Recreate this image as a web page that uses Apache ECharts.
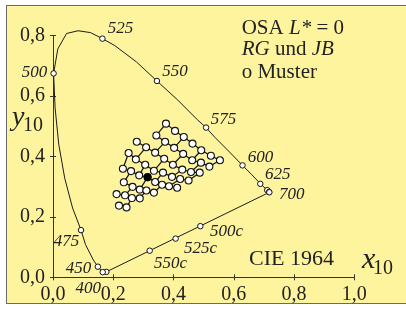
<!DOCTYPE html>
<html>
<head>
<meta charset="utf-8">
<script src="https://cdn.jsdelivr.net/npm/echarts@6.0.0/dist/echarts.min.js"></script>
<style>
html, body { margin: 0; padding: 0; background: #fff; }
#frame { position: absolute; left: 6px; top: 5px; width: 420px; height: 297px; background: #fff49e; border: 1.5px solid #6a6a6a; }
#chart { position: absolute; left: 0; top: 0; width: 406px; height: 309px; }
</style>
</head>
<body>
<div id="frame"></div>
<div id="chart"></div>
<script>
// spectral locus, CIE 1964 (x10, y10)
const locusNm = [400, 410, 420, 425, 430, 440, 450, 460, 470, 475, 480, 485, 490, 495, 500, 505, 510, 515, 520, 525, 530, 540, 550, 560, 570, 575, 580, 590, 600, 610, 620, 625, 630, 640, 650, 675, 700]
const locusX = [0.177, 0.174, 0.170, 0.165, 0.163, 0.157, 0.149, 0.134, 0.108, 0.093, 0.065, 0.039, 0.019, 0.007, 0.002, 0.016, 0.045, 0.083, 0.124, 0.164, 0.205, 0.277, 0.345, 0.414, 0.479, 0.508, 0.537, 0.589, 0.629, 0.660, 0.682, 0.688, 0.695, 0.705, 0.711, 0.717, 0.718]
const locusY = [0.018, 0.018, 0.017, 0.017, 0.019, 0.025, 0.035, 0.057, 0.108, 0.156, 0.229, 0.327, 0.440, 0.560, 0.674, 0.755, 0.806, 0.815, 0.809, 0.789, 0.766, 0.712, 0.649, 0.586, 0.521, 0.495, 0.463, 0.411, 0.370, 0.339, 0.316, 0.309, 0.303, 0.294, 0.288, 0.282, 0.281]

// marked and labelled wavelengths
const markNm = [400, 425, 450, 475, 500, 525, 550, 575, 600, 625, 650, 675, 700]
const labelNm = [400, 450, 475, 500, 525, 550, 575, 600, 625, 700]

// points on the purple line
const purpleNames = ['550c', '525c', '500c']
const purpleX = [0.321, 0.407, 0.489]
const purpleY = [0.088, 0.128, 0.169]

// OSA samples L* = 0, one row per RG line
const osaRow0 = [[0.375, 0.508], [0.405, 0.484], [0.434, 0.464], [0.463, 0.442], [0.492, 0.420], [0.524, 0.402], [0.554, 0.387]]
const osaRow1 = [[0.343, 0.469], [0.372, 0.448], [0.402, 0.428], [0.432, 0.408], [0.462, 0.387], [0.491, 0.379], [0.519, 0.366]]
const osaRow2 = [[0.278, 0.448], [0.309, 0.430], [0.339, 0.412], [0.369, 0.392], [0.398, 0.372], [0.429, 0.356], [0.458, 0.348], [0.487, 0.346]]
const osaRow3 = [[0.251, 0.411], [0.275, 0.390], [0.306, 0.372], [0.335, 0.352], [0.365, 0.346], [0.395, 0.332], [0.422, 0.325], [0.450, 0.320]]
const osaRow4 = [[0.232, 0.359], [0.259, 0.351], [0.286, 0.337], [0.314, 0.331], [0.339, 0.315], [0.362, 0.306], [0.385, 0.301], [0.412, 0.296]]
const osaRow5 = [[0.235, 0.314], [0.264, 0.299], [0.288, 0.290], [0.310, 0.287], [0.335, 0.280]]
const osaRow6 = [[0.211, 0.275], [0.239, 0.271], [0.262, 0.262], [0.288, 0.261]]
const osaRow7 = [[0.219, 0.237], [0.244, 0.231]]
const osaFirst = [0, 0, -1, -1, -1, 0, 0, 1]
const whitePoint = [0.314, 0.331]

const serif = 'Liberation Serif'
const ink = '#222'

// label side, distance, dx, dy
const labelPlace = {
  '400': ['left', 2, 0, 17],
  '450': ['left', 3.5, 0, 1.5],
  '475': ['left', 0, 1.5, 11.5],
  '500': ['left', 3, 0, -1],
  '525': ['right', 2, 0, -10],
  '550': ['right', 2, 0, -9.5],
  '575': ['right', 1.5, 0, -8],
  '600': ['right', 2, 0, -8],
  '625': ['right', 1.5, 0, -9],
  '700': ['right', 6.5, 0, 2],
  '500c': ['right', 6.5, 0, 5],
  '525c': ['right', 5, 0, 9.5],
  '550c': ['right', 1, 0, 13]
}

function labelFor(name) {
  const p = labelPlace[name]
  if (!p) return { show: false }
  return {
    show: true,
    formatter: name,
    position: p[0],
    distance: p[1],
    offset: [p[2], p[3]],
    fontFamily: serif,
    fontStyle: 'italic',
    fontSize: 17,
    color: ink
  }
}

const locusData = locusX.map((x, i) => [x, locusY[i]])
const markData = markNm.map(nm => {
  const i = locusNm.indexOf(nm)
  const name = labelNm.includes(nm) ? String(nm) : ''
  return { name: name, value: [locusX[i], locusY[i]], label: labelFor(name) }
})
const first = locusData[0]
const last = locusData[locusData.length - 1]
const purpleData = purpleNames.map((n, i) => ({ name: n, value: [purpleX[i], purpleY[i]], label: labelFor(n) }))

// RG rows are joined point to point, JB links alternate between rows
const osaRows = [osaRow0, osaRow1, osaRow2, osaRow3, osaRow4, osaRow5, osaRow6, osaRow7]
const links = []
osaRows.forEach((row, r) => {
  row.forEach((p, k) => {
    const i = osaFirst[r] + k
    if (k > 0) links.push({ coords: [row[k - 1], p] })
    if ((r + i) % 2 === 0 && r + 1 < osaRows.length) {
      const next = osaRows[r + 1]
      const j = i - osaFirst[r + 1]
      if (j >= 0 && j < next.length) links.push({ coords: [p, next[j]] })
    }
  })
})
const osaPoints = [].concat(...osaRows)

const tickFmt = v => v.toFixed(1).replace('.', ',')
const axisLine = { lineStyle: { color: '#333', width: 1 } }

const chart = echarts.init(document.getElementById('chart'))
chart.setOption({
  animation: false,
  grid: { left: 53, right: 51.7, top: 35.3, bottom: 31.7 },
  xAxis: [
    {
      type: 'value', min: 0, max: 1, interval: 0.2,
      axisLine: axisLine,
      axisTick: { length: 3, lineStyle: { color: '#333' } },
      splitLine: { show: false },
      axisLabel: { formatter: tickFmt, fontFamily: serif, fontSize: 20, color: ink, margin: 7 }
    },
    {
      type: 'value', min: 0, max: 1, interval: 0.2, position: 'bottom',
      axisLine: { show: false },
      axisTick: { inside: true, length: 3, lineStyle: { color: '#333' } },
      splitLine: { show: false },
      axisLabel: { show: false }
    }
  ],
  yAxis: [
    {
      type: 'value', min: 0, max: 0.8, interval: 0.2,
      axisLine: axisLine,
      axisTick: { length: 3, lineStyle: { color: '#333' } },
      splitLine: { show: false },
      axisLabel: { formatter: tickFmt, fontFamily: serif, fontSize: 20, color: ink, margin: 8 }
    },
    {
      type: 'value', min: 0, max: 0.8, interval: 0.2, position: 'left',
      axisLine: { show: false },
      axisTick: { inside: true, length: 3, lineStyle: { color: '#333' } },
      splitLine: { show: false },
      axisLabel: { show: false }
    }
  ],
  graphic: [
    { type: 'text', x: 241.7, y: 28.5, style: { text: '{n|OSA }{i|L*}{n| = 0}', verticalAlign: 'middle', rich: { n: { fontFamily: serif, fontSize: 21, fill: ink }, i: { fontFamily: serif, fontSize: 21, fontStyle: 'italic', fill: ink } } } },
    { type: 'text', x: 241.7, y: 49.5, style: { text: '{i|RG}{n| und }{i|JB}', verticalAlign: 'middle', rich: { n: { fontFamily: serif, fontSize: 21, fill: ink }, i: { fontFamily: serif, fontSize: 21, fontStyle: 'italic', fill: ink } } } },
    { type: 'text', x: 241.7, y: 72, style: { text: 'o Muster', verticalAlign: 'middle', fontFamily: serif, fontSize: 21, fill: ink } },
    { type: 'text', x: 249, y: 259.5, style: { text: 'CIE 1964', verticalAlign: 'middle', fontFamily: serif, fontSize: 22, fill: ink } },
    { type: 'text', x: 362, y: 260, style: { text: 'x', verticalAlign: 'middle', fontFamily: serif, fontStyle: 'italic', fontSize: 30, fill: ink } },
    { type: 'text', x: 373, y: 269.2, style: { text: '10', verticalAlign: 'middle', fontFamily: serif, fontSize: 20, fill: ink } },
    { type: 'text', x: 12, y: 117.5, style: { text: 'y', verticalAlign: 'middle', fontFamily: serif, fontStyle: 'italic', fontSize: 28, fill: ink } },
    { type: 'text', x: 23, y: 126.2, style: { text: '10', verticalAlign: 'middle', fontFamily: serif, fontSize: 20, fill: ink } }
  ],
  series: [
    {
      type: 'line', data: locusData, showSymbol: false, clip: false, silent: true, z: 2,
      lineStyle: { color: '#1a1a1a', width: 1 }
    },
    {
      type: 'line', data: [first, last], showSymbol: false, clip: false, silent: true, z: 2,
      lineStyle: { color: '#1a1a1a', width: 1 }
    },
    {
      type: 'lines', coordinateSystem: 'cartesian2d', data: links, silent: true, z: 3, clip: false,
      lineStyle: { color: '#111', width: 1.2, opacity: 1 }
    },
    {
      type: 'scatter', data: osaPoints, symbol: 'circle', symbolSize: 7, silent: true, z: 4, clip: false,
      itemStyle: { color: '#fff', borderColor: '#111', borderWidth: 1.1, opacity: 1 }
    },
    {
      type: 'scatter', data: [whitePoint], symbol: 'circle', symbolSize: 7, silent: true, z: 5, clip: false,
      itemStyle: { color: '#000', borderColor: '#000', borderWidth: 1, opacity: 1 }
    },
    {
      type: 'scatter', data: markData, symbol: 'circle', symbolSize: 5.5, silent: true, z: 5, clip: false,
      itemStyle: { color: '#fff', borderColor: '#111', borderWidth: 1, opacity: 1 }
    },
    {
      type: 'scatter', data: purpleData, symbol: 'circle', symbolSize: 5.5, silent: true, z: 5, clip: false,
      itemStyle: { color: '#fff', borderColor: '#111', borderWidth: 1, opacity: 1 }
    }
  ]
})
</script>
</body>
</html>
